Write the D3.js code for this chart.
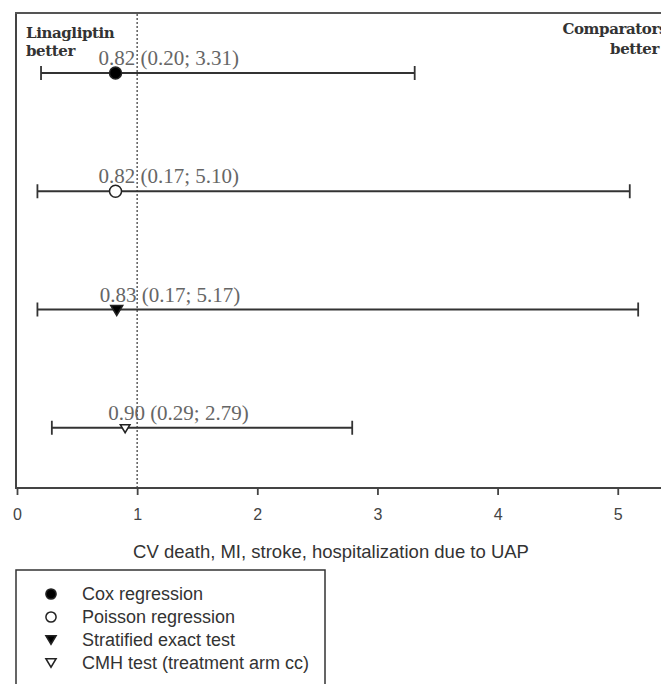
<!DOCTYPE html>
<html>
<head>
<meta charset="utf-8">
<script src="https://cdn.jsdelivr.net/npm/d3@7"></script>
<style>
  body { margin: 0; background: #fff; }
</style>
</head>
<body>
<svg width="661" height="684"></svg>
<script>
var methods = ["Cox regression", "Poisson regression", "Stratified exact test", "CMH test (treatment arm cc)"];
var estimates = [0.82, 0.82, 0.83, 0.90];
var lowers = [0.20, 0.17, 0.17, 0.29];
var uppers = [3.31, 5.10, 5.17, 2.79];
var labels = ["0.82 (0.20; 3.31)", "0.82 (0.17; 5.10)", "0.83 (0.17; 5.17)", "0.90 (0.29; 2.79)"];
var symbols = ["dotFilled", "dotOpen", "triFilled", "triOpen"];
var xTicks = [0, 1, 2, 3, 4, 5];

var svg = d3.select("svg");
var ink = "#333";
var sans = "Liberation Sans, Arial, sans-serif";
var serif = "Liberation Serif, Times New Roman, serif";

var x = d3.scaleLinear().domain([0, 5.36]).range([17, 661]);
var y = d3.scaleBand().domain(d3.range(4)).range([14, 487]);

// frame (left + top)
svg.append("line").attr("x1", 16).attr("x2", 16).attr("y1", 12).attr("y2", 488)
  .attr("stroke", "#444").attr("stroke-width", 2);
svg.append("line").attr("x1", 15).attr("x2", 661).attr("y1", 13).attr("y2", 13)
  .attr("stroke", "#555").attr("stroke-width", 2);

// x axis
var xAxis = svg.append("g")
  .attr("transform", "translate(0,488)")
  .call(d3.axisBottom(x).tickValues(xTicks).tickSize(7).tickFormat(d3.format("d")));
xAxis.select(".domain").attr("stroke", "#444").attr("stroke-width", 2)
  .attr("d", "M15,0H661");
xAxis.selectAll(".tick line").attr("stroke", "#444").attr("stroke-width", 1.8);
xAxis.selectAll(".tick text")
  .attr("fill", "#444").attr("font-family", sans)
  .attr("font-size", "16px").attr("y", 32).attr("dy", null);

svg.append("text").attr("x", 331).attr("y", 558)
  .attr("text-anchor", "middle")
  .attr("font-family", sans)
  .attr("font-size", "18.5px").attr("fill", "#333")
  .text("CV death, MI, stroke, hospitalization due to UAP");

// reference line at 1
svg.append("line").attr("x1", x(1)).attr("x2", x(1)).attr("y1", 14).attr("y2", 488)
  .attr("stroke", "#444").attr("stroke-width", 1.3).attr("stroke-dasharray", "2,2");

// corner labels
var lb = svg.append("text").attr("font-family", "DejaVu Serif, serif").attr("font-weight", "bold")
  .attr("font-size", "15px").attr("fill", "#333").attr("letter-spacing", "-0.4");
lb.append("tspan").attr("x", 26).attr("y", 38).text("Linagliptin");
lb.append("tspan").attr("x", 26).attr("y", 56).text("better");
var rb = svg.append("text").attr("font-family", "DejaVu Serif, serif").attr("font-weight", "bold")
  .attr("font-size", "15px").attr("fill", "#333").attr("text-anchor", "end")
  .attr("letter-spacing", "-0.4");
rb.append("tspan").attr("x", 667).attr("y", 34).text("Comparators");
rb.append("tspan").attr("x", 659).attr("y", 54).text("better");

// rows
var rows = svg.selectAll(".row").data(d3.range(4)).enter().append("g")
  .attr("class", "row")
  .attr("transform", function(i) { return "translate(0," + (y(i) + 59) + ")"; });

rows.append("line")
  .attr("x1", function(i) { return x(lowers[i]); })
  .attr("x2", function(i) { return x(uppers[i]); })
  .attr("stroke", ink).attr("stroke-width", 1.8);
rows.append("line")
  .attr("x1", function(i) { return x(lowers[i]); })
  .attr("x2", function(i) { return x(lowers[i]); })
  .attr("y1", -7).attr("y2", 7).attr("stroke", ink).attr("stroke-width", 1.8);
rows.append("line")
  .attr("x1", function(i) { return x(uppers[i]); })
  .attr("x2", function(i) { return x(uppers[i]); })
  .attr("y1", -7).attr("y2", 7).attr("stroke", ink).attr("stroke-width", 1.8);

function drawSymbol(g, kind, cx, cy, s) {
  if (kind === "dotFilled" || kind === "dotOpen") {
    g.append("circle").attr("cx", cx).attr("cy", cy).attr("r", 6 * s)
      .attr("fill", kind === "dotFilled" ? "#000" : "#fff")
      .attr("stroke", "#222").attr("stroke-width", 1.5);
  } else {
    var w = 6 * s, h = 10 * s;
    g.append("path")
      .attr("d", "M" + (cx - w) + "," + (cy - h / 2) + "L" + (cx + w) + "," + (cy - h / 2) +
        "L" + cx + "," + (cy + h / 2) + "Z")
      .attr("fill", kind === "triFilled" ? "#000" : "#fff")
      .attr("stroke", "#222").attr("stroke-width", 1.5);
  }
}

rows.each(function(i) {
  var g = d3.select(this);
  drawSymbol(g, symbols[i], x(estimates[i]), i >= 2 ? 1 : 0, i === 3 ? 0.8 : 1);
  g.append("text")
    .attr("x", x(estimates[i]) - 17)
    .attr("y", -8)
    .attr("font-family", serif).attr("font-size", "21px").attr("fill", "#666")
    .text(labels[i]);
});

// legend
svg.append("rect").attr("x", 16).attr("y", 570).attr("width", 309).attr("height", 130)
  .attr("fill", "none").attr("stroke", "#333").attr("stroke-width", 1.5);
var leg = svg.selectAll(".leg").data(d3.range(4)).enter().append("g")
  .attr("class", "leg")
  .attr("transform", function(i) { return "translate(0," + (594 + i * 23) + ")"; });
leg.each(function(i) {
  drawSymbol(d3.select(this), symbols[i], 51, 0, 0.85);
});
leg.append("text").attr("x", 82).attr("y", 6)
  .attr("font-family", sans)
  .attr("font-size", "18px").attr("fill", "#333")
  .text(function(i) { return methods[i]; });
</script>
</body>
</html>
